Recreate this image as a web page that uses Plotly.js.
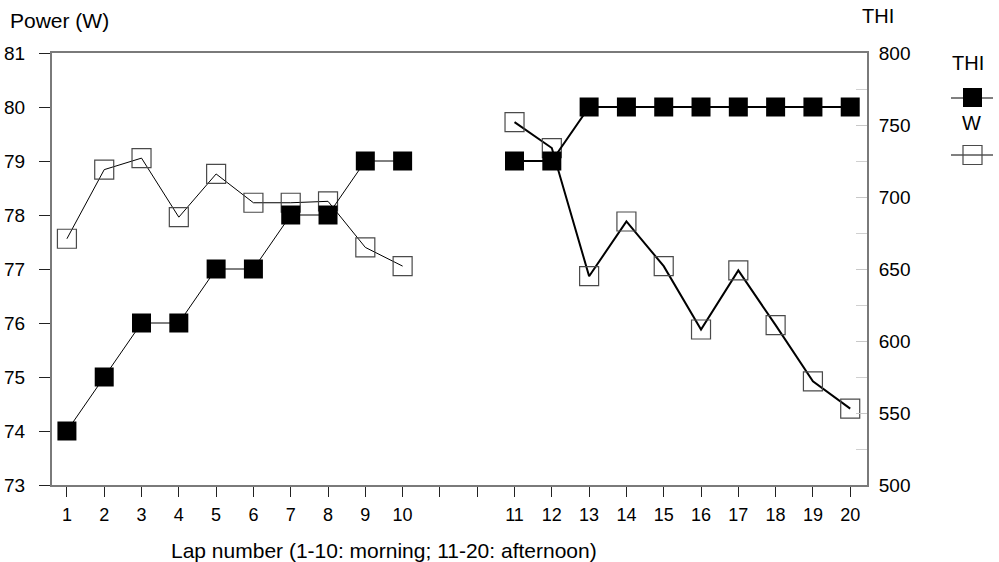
<!DOCTYPE html>
<html>
<head>
<meta charset="utf-8">
<script src="https://cdn.plot.ly/plotly-3.0.1.min.js"></script>
<style>
  html, body { margin: 0; padding: 0; background: #fff; }
  #chart { width: 999px; height: 562px; }
</style>
</head>
<body>
<div id="chart"></div>
<script>
// Laps of the test day: 1-10 in the morning, 11-20 in the afternoon
const morningLaps = [1, 2, 3, 4, 5, 6, 7, 8, 9, 10];
const afternoonLaps = [11, 12, 13, 14, 15, 16, 17, 18, 19, 20];

// THI per lap (left scale)
const thiMorning = [74, 75, 76, 76, 77, 77, 78, 78, 79, 79];
const thiAfternoon = [79, 79, 80, 80, 80, 80, 80, 80, 80, 80];

// Power output per lap in W (right scale)
const wMorning = [671, 719, 727, 686, 716, 696, 696, 697, 665, 652];
const wAfternoon = [752, 734, 645, 683, 652, 608, 649, 611, 572, 553];

// Two empty slots separate the morning and afternoon blocks on the lap axis
const breakSlots = 2;
const slotLabels = ['1', '2', '3', '4', '5', '6', '7', '8', '9', '10', '', '',
                    '11', '12', '13', '14', '15', '16', '17', '18', '19', '20'];

const slotOf = lap => lap + (lap > 10 ? breakSlots : 0);
const slots = slotLabels.map((_, i) => i + 1);

const FONT = 'Liberation Sans, Arial, sans-serif';

function series(laps, vals, axis, filled, width) {
  return {
    x: laps.map(slotOf), y: vals, yaxis: axis,
    type: 'scatter', mode: 'lines+markers', showlegend: false, hoverinfo: 'skip',
    line: { color: '#000', width: width },
    marker: filled
      ? { symbol: 'square', size: 19, color: '#000', line: { width: 0 } }
      : { symbol: 'square-open', size: 19, color: '#4a4a4a', line: { width: 1.2 } }
  };
}

const data = [
  series(morningLaps, wMorning, 'y', false, 1),
  series(afternoonLaps, wAfternoon, 'y', false, 2),
  series(morningLaps, thiMorning, 'y2', true, 1),
  series(afternoonLaps, thiAfternoon, 'y2', true, 2)
];

// pixel -> paper helpers for the hand-placed legend and titles
const L = 52, R = 867, T = 53, B = 485;
const px = x => (x - L) / (R - L);
const py = y => (B - y) / (B - T);

const layout = {
  width: 999, height: 562,
  margin: { l: L, r: 999 - R, t: T, b: 562 - B },
  paper_bgcolor: '#fff', plot_bgcolor: '#fff',
  font: { family: FONT, color: '#000', size: 18 },
  showlegend: false,
  xaxis: {
    range: [0.6, 22.45], tickvals: slots, ticktext: slotLabels,
    showgrid: false, zeroline: false,
    showline: true, linecolor: '#7a7a7a', linewidth: 2, mirror: true,
    ticks: 'outside', ticklen: 10, tickwidth: 1, tickcolor: '#222',
    ticklabelstandoff: 2,
    tickfont: { size: 18, family: FONT }
  },
  // right scale: power (W)
  yaxis: {
    side: 'right', range: [500, 800], tickvals: [500, 550, 600, 650, 700, 750, 800],
    showgrid: false, zeroline: false,
    showline: true, linecolor: '#7a7a7a', linewidth: 2,
    ticks: 'inside', ticklen: 11, tickwidth: 1, tickcolor: '#c8c8c8',
    minor: { dtick: 25, tick0: 500, ticks: 'inside', ticklen: 11, tickcolor: '#d0d0d0', tickwidth: 1 },
    ticklabelstandoff: 6,
    tickfont: { size: 19, family: FONT }
  },
  // left scale: THI
  yaxis2: {
    side: 'left', overlaying: 'y', range: [73, 81], dtick: 1,
    showgrid: false, zeroline: false,
    showline: true, linecolor: '#7a7a7a', linewidth: 2,
    ticks: 'outside', ticklen: 11, tickwidth: 1, tickcolor: '#222',
    ticklabelstandoff: 10,
    tickfont: { size: 19, family: FONT }
  },
  annotations: [
    { text: 'Power (W)', xref: 'paper', yref: 'paper', x: px(8), y: py(21),
      xanchor: 'left', yanchor: 'middle', showarrow: false, font: { size: 21, family: FONT } },
    { text: 'THI', xref: 'paper', yref: 'paper', x: px(860), y: py(16),
      xanchor: 'left', yanchor: 'middle', showarrow: false, font: { size: 20, family: FONT } },
    { text: 'Lap number (1-10: morning; 11-20: afternoon)', xref: 'paper', yref: 'paper',
      x: px(384), y: py(550), xanchor: 'center', yanchor: 'middle', showarrow: false,
      font: { size: 21, family: FONT } },
    { text: 'THI', xref: 'paper', yref: 'paper', x: px(950), y: py(63),
      xanchor: 'left', yanchor: 'middle', showarrow: false, font: { size: 20, family: FONT } },
    { text: 'W', xref: 'paper', yref: 'paper', x: px(960), y: py(123),
      xanchor: 'left', yanchor: 'middle', showarrow: false, font: { size: 20, family: FONT } }
  ],
  shapes: [
    { type: 'line', xref: 'paper', yref: 'paper', x0: px(951), x1: px(993), y0: py(98), y1: py(98),
      line: { color: '#000', width: 1 } },
    { type: 'rect', xref: 'paper', yref: 'paper', x0: px(963), x1: px(982), y0: py(88), y1: py(107),
      fillcolor: '#000', line: { width: 0 } },
    { type: 'line', xref: 'paper', yref: 'paper', x0: px(951), x1: px(993), y0: py(155), y1: py(155),
      line: { color: '#000', width: 1 } },
    { type: 'rect', xref: 'paper', yref: 'paper', x0: px(963), x1: px(982), y0: py(145.5), y1: py(164.5),
      fillcolor: 'rgba(0,0,0,0)', line: { color: '#4a4a4a', width: 1.2 } }
  ]
};

Plotly.newPlot('chart', data, layout, { staticPlot: true, displayModeBar: false });
</script>
</body>
</html>
